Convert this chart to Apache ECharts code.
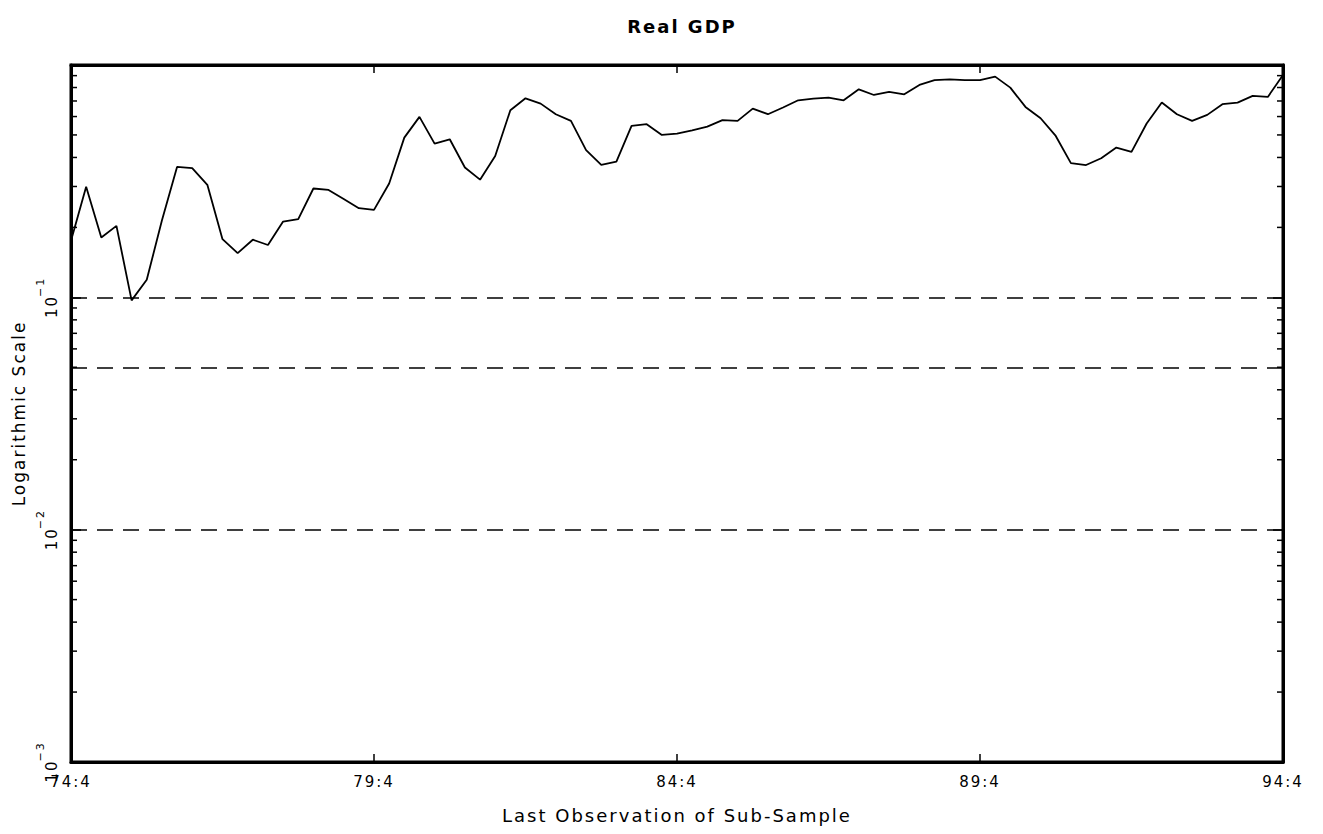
<!DOCTYPE html>
<html>
<head>
<meta charset="utf-8">
<script src="https://cdn.jsdelivr.net/npm/echarts@6/dist/echarts.min.js"></script>
<style>
  html, body { margin: 0; padding: 0; background: #fff; }
  #chart { width: 1323px; height: 834px; }
  #chart text { letter-spacing: 2px; }
</style>
</head>
<body>
<div id="chart"></div>
<script>
// ---- data ----
const chartTitle = 'Real GDP';
const xAxisName = 'Last Observation of Sub-Sample';
const yAxisName = 'Logarithmic Scale';

// quarters 74:4 ... 94:4
const categories = [];
for (let y = 74; y <= 94; y++) {
  for (let q = 1; q <= 4; q++) {
    if (y === 74 && q < 4) continue;
    categories.push(y + ':' + q);
  }
}
const xTickLabels = ['74:4', '79:4', '84:4', '89:4', '94:4'];

const gdpValues = [
  0.175, 0.299, 0.181, 0.203, 0.097, 0.119, 0.214, 0.364, 0.360, 0.305,
  0.178, 0.155, 0.177, 0.168, 0.212, 0.217, 0.294, 0.290, 0.265, 0.242,
  0.238, 0.309, 0.487, 0.598, 0.459, 0.479, 0.362, 0.321, 0.406, 0.639,
  0.719, 0.682, 0.614, 0.575, 0.430, 0.372, 0.384, 0.547, 0.556, 0.500,
  0.507, 0.523, 0.543, 0.579, 0.575, 0.649, 0.614, 0.656, 0.705, 0.717,
  0.724, 0.705, 0.786, 0.743, 0.766, 0.748, 0.821, 0.860, 0.868, 0.860,
  0.860, 0.891, 0.799, 0.660, 0.590, 0.495, 0.378, 0.371, 0.397, 0.441,
  0.423, 0.560, 0.689, 0.614, 0.575, 0.610, 0.678, 0.689, 0.736, 0.729,
  0.906
];

const criticalLevels = [0.1, 0.05, 0.01];
const yMin = 0.001, yMax = 1;
const decades = [0.001, 0.01, 0.1];
const minorMultipliers = [2, 3, 4, 5, 6, 7, 8, 9];

// ---- build ----
const minorTickVals = [];
decades.forEach(d => minorMultipliers.forEach(m => minorTickVals.push(d * m)));

const FONT = 'DejaVu Sans';
const lastIdx = categories.length - 1;

const chart = echarts.init(document.getElementById('chart'), null, { renderer: 'svg' });

const yLabelFormatter = v => {
  const e = Math.round(Math.log10(v));
  if (e >= 0) return '';
  return '{b|10}{s|\u2212' + (-e) + '}';
};

const option = {
  animation: false,
  backgroundColor: '#fff',
  title: {
    text: chartTitle,
    left: 677,
    textAlign: 'center',
    top: 12,
    textStyle: { fontFamily: FONT, fontSize: 18, fontWeight: 'bold', color: '#000' }
  },
  grid: {
    left: 71, right: 40, top: 65, bottom: 72,
    show: true, borderColor: '#000', borderWidth: 3, backgroundColor: 'transparent'
  },
  xAxis: [
    {
      type: 'category',
      data: categories,
      boundaryGap: false,
      position: 'bottom',
      name: xAxisName,
      nameLocation: 'middle',
      nameGap: 44,
      nameTextStyle: { fontFamily: FONT, fontSize: 18, color: '#000' },
      axisLine: { show: true, lineStyle: { color: '#000', width: 3 } },
      axisTick: {
        show: true, inside: true, length: 8,
        interval: (i, v) => xTickLabels.indexOf(v) >= 0,
        lineStyle: { color: '#000', width: 1.5 }
      },
      axisLabel: {
        interval: (i, v) => xTickLabels.indexOf(v) >= 0,
        margin: 12,
        fontFamily: FONT, fontSize: 15, color: '#000'
      },
      splitLine: { show: false }
    },
    {
      type: 'category',
      data: categories,
      boundaryGap: false,
      position: 'top',
      axisLine: { show: true, lineStyle: { color: '#000', width: 3 } },
      axisTick: {
        show: true, inside: true, length: 8,
        interval: (i, v) => xTickLabels.indexOf(v) >= 0,
        lineStyle: { color: '#000', width: 1.5 }
      },
      axisLabel: { show: false },
      splitLine: { show: false }
    }
  ],
  yAxis: [
    {
      type: 'log',
      logBase: 10,
      min: yMin,
      max: yMax,
      position: 'left',
      name: yAxisName,
      nameLocation: 'middle',
      nameGap: 36,
      nameTextStyle: { fontFamily: FONT, fontSize: 17, color: '#000' },
      axisLine: { show: true, lineStyle: { color: '#000', width: 3 } },
      axisTick: { show: true, inside: true, length: 10, lineStyle: { color: '#000', width: 1.5 } },
      axisLabel: {
        rotate: 90,
        margin: 12,
        formatter: yLabelFormatter,
        color: '#000',
        rich: {
          b: { fontFamily: FONT, fontSize: 15, color: '#000', lineHeight: 24, verticalAlign: 'bottom' },
          s: { fontFamily: FONT, fontSize: 11, color: '#000', verticalAlign: 'top', padding: [0, 0, 0, 2] }
        }
      },
      splitLine: { show: false }
    },
    {
      type: 'log',
      logBase: 10,
      min: yMin,
      max: yMax,
      position: 'right',
      axisLine: { show: true, lineStyle: { color: '#000', width: 3 } },
      axisTick: { show: true, inside: true, length: 10, lineStyle: { color: '#000', width: 1.5 } },
      axisLabel: { show: false },
      splitLine: { show: false }
    }
  ],
  series: [
    {
      name: chartTitle,
      type: 'line',
      data: gdpValues,
      xAxisIndex: 0,
      yAxisIndex: 0,
      symbol: 'none',
      lineStyle: { color: '#000', width: 1.8 },
      markLine: {
        silent: true,
        symbol: ['none', 'none'],
        label: { show: false },
        lineStyle: { color: '#000', width: 1.6, type: [16, 10] },
        data: criticalLevels.map(v => ({ yAxis: v }))
      },
      z: 3
    },
    {
      type: 'custom',
      xAxisIndex: 0,
      yAxisIndex: 0,
      silent: true,
      clip: false,
      data: minorTickVals.map(v => [0, v]),
      renderItem: (params, api) => {
        const v = api.value(1);
        const pL = api.coord([0, v]);
        const pR = api.coord([lastIdx, v]);
        const st = { stroke: '#000', lineWidth: 1.5 };
        return {
          type: 'group',
          children: [
            { type: 'line', shape: { x1: pL[0], y1: pL[1], x2: pL[0] + 6, y2: pL[1] }, style: st },
            { type: 'line', shape: { x1: pR[0], y1: pR[1], x2: pR[0] - 6, y2: pR[1] }, style: st }
          ]
        };
      },
      z: 4
    }
  ]
};

chart.setOption(option);
</script>
</body>
</html>
